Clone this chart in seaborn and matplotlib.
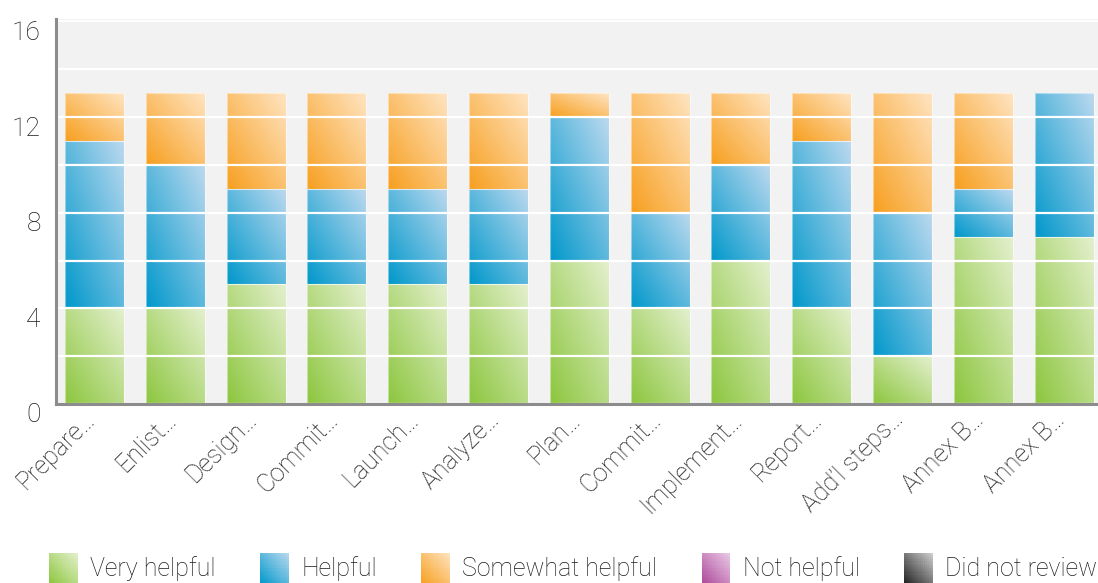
import numpy as np
import matplotlib
matplotlib.use("Agg")
import matplotlib.pyplot as plt
import seaborn as sns
from matplotlib.transforms import ScaledTranslation
from matplotlib.patches import Rectangle, Patch
from matplotlib.collections import PatchCollection
from matplotlib.legend_handler import HandlerBase
from matplotlib.colors import to_rgb

# ---- data -------------------------------------------------------------
steps = ["Prepare…", "Enlist…", "Design…", "Commit…", "Launch…", "Analyze…",
         "Plan…", "Commit…", "Implement…", "Report…", "Add’l steps…",
         "Annex B…", "Annex B…"]
very_helpful = [4, 4, 5, 5, 5, 5, 6, 4, 6, 4, 2, 7, 7]
helpful = [7, 6, 4, 4, 4, 4, 6, 4, 4, 7, 6, 2, 6]
somewhat_helpful = [2, 3, 4, 4, 4, 4, 1, 5, 3, 2, 5, 4, 0]
not_helpful = [0] * 13
did_not_review = [0] * 13

series_names = ["Very helpful", "Helpful", "Somewhat helpful", "Not helpful", "Did not review"]
series_values = [very_helpful, helpful, somewhat_helpful, not_helpful, did_not_review]
# (dark bottom-left colour, light top-right colour) for each series
series_colors = [("#8cc63e", "#e4f0ce"),
                 ("#0098cb", "#bcd9ef"),
                 ("#f79f1f", "#ffe4c1"),
                 ("#ad4a9c", "#ebcbe6"),
                 ("#202020", "#d2d2d2")]
y_ticks = [0, 4, 8, 12, 16]

# ---- style ------------------------------------------------------------
sns.set_style("white", {"axes.facecolor": "#f2f2f2"})
plt.rcParams["font.family"] = ["Roboto", "DejaVu Sans"]
plt.rcParams["font.weight"] = "light"
plt.rcParams["text.color"] = "#1a1a1a"
plt.rcParams["xtick.color"] = "#1a1a1a"
plt.rcParams["ytick.color"] = "#1a1a1a"
plt.rcParams["xtick.labelcolor"] = "#1a1a1a"
plt.rcParams["ytick.labelcolor"] = "#1a1a1a"

FS = 18

fig = plt.figure(figsize=(10.98, 5.83), dpi=100)
ax = fig.add_axes([56 / 1098, 1 - 404 / 583, 1 - 56 / 1098, 385 / 583])

x = np.arange(len(steps))
bottom = np.zeros(len(steps))
for name, vals, (c0, c1) in zip(series_names, series_values, series_colors):
    vals = np.asarray(vals, dtype=float)
    if vals.sum() == 0:
        continue
    n_before = len(ax.patches)
    sns.barplot(x=x, y=vals, bottom=bottom, color=c0, width=0.73,
                saturation=1, ax=ax, linewidth=0)
    for p in ax.patches[n_before:]:
        p.set_gid(name)
    bottom += vals


def gradient_rgb(c0, c1, n=96):
    u = np.linspace(0, 1, n)
    U, V = np.meshgrid(u, u)
    t = ((U + V) / 2)[..., None]
    a = np.array(to_rgb(c0))
    b = np.array(to_rgb(c1))
    return a * (1 - t) + b * t


color_by_name = dict(zip(series_names, series_colors))
for p in list(ax.patches):
    h = p.get_height()
    if h <= 0:
        p.set_visible(False)
        continue
    x0, y0 = p.get_xy()
    w = p.get_width()
    c0, c1 = color_by_name[p.get_gid()]
    ax.imshow(gradient_rgb(c0, c1), extent=(x0, x0 + w, y0, y0 + h),
              origin="lower", aspect="auto", interpolation="bilinear", zorder=1.5)
    p.set_facecolor("none")
    p.set_edgecolor((1, 1, 1, 0.45))
    p.set_linewidth(0.8)
    p.set_zorder(2)

ax.set_xlim(-0.476, -0.476 + (1098 - 56) / 80.8)
ax.set_ylim(0, 16.1)
ax.set_aspect("auto")

# grid every 2 units drawn over the bars, labels every 4
ax.set_yticks(y_ticks)
ax.set_yticks([2, 6, 10, 14], minor=True)
ax.set_axisbelow(False)
ax.yaxis.grid(True, which="both", color="white", linewidth=1.6)
ax.xaxis.grid(False)
ax.tick_params(axis="both", which="both", length=0)
ax.tick_params(axis="y", labelsize=FS + 1, pad=11)
ax.set_yticklabels([str(v) for v in y_ticks])
for lab in ax.get_yticklabels():
    lab.set_transform(lab.get_transform() + ScaledTranslation(0, -9 / 100, fig.dpi_scale_trans))

ax.set_xticks(x)
ax.set_xticklabels(steps, rotation=45, ha="right", va="baseline",
                   rotation_mode="anchor", fontsize=FS)
ax.tick_params(axis="x", pad=12)
for lab in ax.get_xticklabels():
    lab.set_transform(lab.get_transform() + ScaledTranslation(2 / 100, 0, fig.dpi_scale_trans))
ax.set_xlabel("")
ax.set_ylabel("")

for side in ("top", "right"):
    ax.spines[side].set_visible(False)
for side in ("left", "bottom"):
    ax.spines[side].set_color("#8c8c8c")
    ax.spines[side].set_linewidth(2.2)
    ax.spines[side].set_zorder(3)


class GradientHandler(HandlerBase):
    def __init__(self, c0, c1, n=14):
        super().__init__()
        self.c0, self.c1, self.n = c0, c1, n

    def create_artists(self, legend, orig_handle, xdescent, ydescent,
                       width, height, fontsize, trans):
        n = self.n
        rects, cols = [], []
        a = np.array(to_rgb(self.c0))
        b = np.array(to_rgb(self.c1))
        for i in range(n):
            for j in range(n):
                t = ((i + 0.5) / n + (j + 0.5) / n) / 2
                rects.append(Rectangle((-xdescent + width * i / n, -ydescent + height * j / n),
                                       width / n * 1.02, height / n * 1.02))
                cols.append(a * (1 - t) + b * t)
        coll = PatchCollection(rects, facecolors=cols, edgecolors="none", transform=trans)
        return [coll]


handles = [Patch(label=nm) for nm in series_names]
hmap = {h: GradientHandler(*c) for h, c in zip(handles, series_colors)}
fig.legend(handles, series_names, handler_map=hmap, loc="center",
           bbox_to_anchor=(0.522, 1 - 568 / 583), ncol=5, frameon=False,
           fontsize=FS, handlelength=1.14, handleheight=1.5,
           handletextpad=0.5, columnspacing=1.78, borderaxespad=0)

fig.savefig("out.png", dpi=100, facecolor="white")
